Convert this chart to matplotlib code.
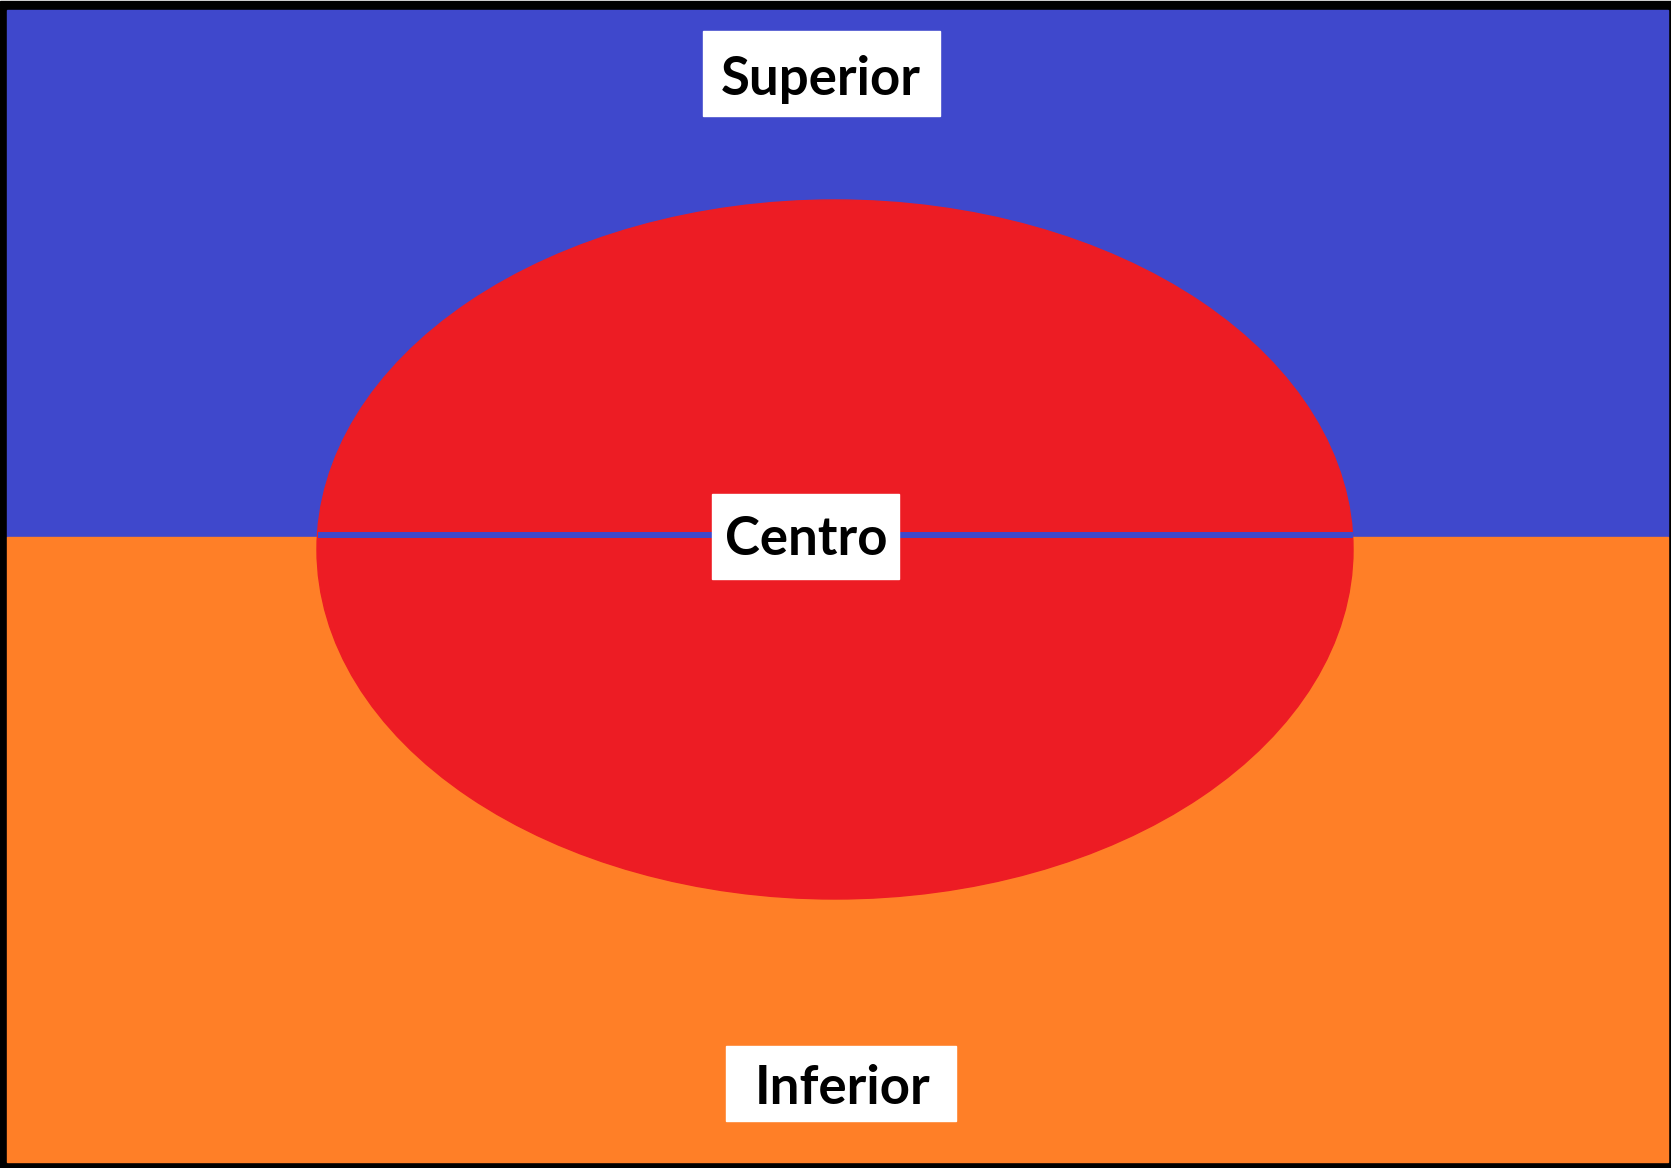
import matplotlib
matplotlib.use("Agg")
import matplotlib.pyplot as plt
from matplotlib.patches import Rectangle, Ellipse

# Region labels of the diagram
labels = ["Superior", "Centro", "Inferior"]
label_baselines = [95, 555, 1104]
label_centers_x = [821, 806, 843]
# white label boxes: (left, top, width, height) in pixels
label_boxes = [(703, 31, 237, 85), (712, 494, 187, 85), (726, 1046, 230, 75)]

BLUE = "#3F48CC"
RED = "#ED1C24"
ORANGE = "#FF7F27"

W, H = 1671, 1168
fig = plt.figure(figsize=(W / 100, H / 100), dpi=100)
ax = fig.add_axes([0, 0, 1, 1])
ax.set_xlim(0, W)
ax.set_ylim(H, 0)
ax.axis("off")

# black frame, then the two halves
ax.add_patch(Rectangle((0, 1), W, H - 1, color="black", zorder=0))
ax.add_patch(Rectangle((7, 10), 1661, 527, color=BLUE, zorder=1))
ax.add_patch(Rectangle((7, 537), 1661, 625, color=ORANGE, zorder=1))

# red ellipse in the middle
ax.add_patch(Ellipse((835, 549.5), 1036, 699, color=RED, zorder=2))

# blue line across the ellipse
ax.plot([318, 1353], [535, 535], color=BLUE, lw=4.3, solid_capstyle="butt", zorder=3)

for txt, bx, by, box in zip(labels, label_centers_x, label_baselines, label_boxes):
    x0, y0, bw, bh = box
    ax.add_patch(Rectangle((x0, y0), bw, bh, color="white", zorder=4))
    ax.text(bx, by, txt, ha="center", va="baseline", fontsize=38,
            family=["Lato", "DejaVu Sans"], fontweight="bold", color="black", zorder=5)

fig.savefig("out.png", dpi=100)
